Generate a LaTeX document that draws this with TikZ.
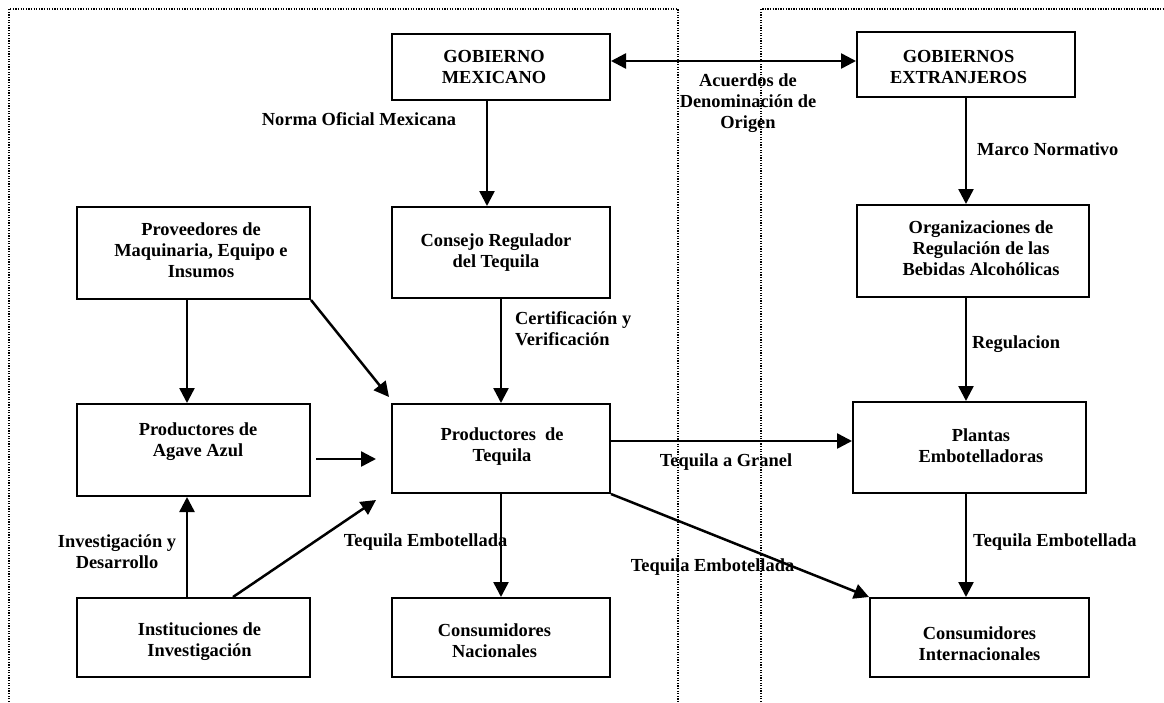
\documentclass[tikz,border=0pt]{standalone}
\usepackage{fontspec}
\setmainfont{Liberation Serif}
\usetikzlibrary{arrows.meta,calc}
\tikzset{
  box/.style={draw, line width=2pt, inner sep=0pt},
  lbl/.style={font=\fontsize{18.4}{21}\selectfont\bfseries, align=center, inner sep=0pt},
  arr/.style={line width=2.5pt, -{Triangle[length=15pt,width=15pt]}},
  darr/.style={line width=2.5pt, {Triangle[length=15pt,width=15pt]}-{Triangle[length=15pt,width=15pt]}},
  frame/.style={line width=1.4pt, dash pattern=on 1.3pt off 1.3pt}
}
\begin{document}
\begin{tikzpicture}[x=1pt,y=-1pt]
\useasboundingbox (0,0) rectangle (1164,702);
% dotted frames
\draw[frame] (9,702) -- (9,9) -- (678,9) -- (678,702);
\draw[frame] (761,702) -- (761,9) -- (1164,9);
% boxes
\node[box, minimum width=218pt, minimum height=66pt] (gm) at (501,67) {};
\node[box, minimum width=218pt, minimum height=65pt] (ge) at (966,64.5) {};
\node[box, minimum width=233pt, minimum height=92pt] (pv) at (193.5,253) {};
\node[box, minimum width=218pt, minimum height=91pt] (crt) at (501,252.5) {};
\node[box, minimum width=232pt, minimum height=92pt] (org) at (973,251) {};
\node[box, minimum width=233pt, minimum height=92pt] (ag) at (193.5,450) {};
\node[box, minimum width=218pt, minimum height=89pt] (pt) at (501,448.5) {};
\node[box, minimum width=233pt, minimum height=91pt] (pe) at (969.5,447.5) {};
\node[box, minimum width=233pt, minimum height=79pt] (in) at (193.5,637.5) {};
\node[box, minimum width=218pt, minimum height=79pt] (cn) at (501,637.5) {};
\node[box, minimum width=219pt, minimum height=79pt] (ci) at (979.5,637.5) {};
% box texts
\node[lbl] (gmT) at (494,67) {GOBIERNO\\MEXICANO};
\node[lbl] (geT) at (958.5,67) {GOBIERNOS\\EXTRANJEROS};
\node[lbl] (pvT) at (201,250) {Proveedores de\\Maquinaria, Equipo e\\Insumos};
\node[lbl] (crtT) at (496,253) {Consejo Regulador\\del Tequila};
\node[lbl] (orgT) at (981,248) {Organizaciones de\\Regulación de las\\Bebidas Alcohólicas};
\node[lbl] (agT) at (198,442) {Productores de\\Agave Azul};
\node[lbl] (ptT) at (502,446.5) {Productores\ \ de\\Tequila};
\node[lbl] (peT) at (981,446) {Plantas\\Embotelladoras};
\node[lbl] (inT) at (199.5,642) {Instituciones de\\Investigación};
\node[lbl] (cnT) at (494.5,640.5) {Consumidores\\Nacionales};
\node[lbl] (ciT) at (979.5,643.5) {Consumidores\\Internacionales};
% connector labels
\node[lbl] (l1) at (359,119) {Norma Oficial Mexicana};
\node[lbl] (l2) at (748,103) {Acuerdos de\\Denominación de\\Origen};
\node[lbl, anchor=west] (l3) at (977,149) {Marco Normativo};
\node[lbl, anchor=west, align=left] (l4) at (515,329) {Certificación y\\Verificación};
\node[lbl, anchor=west] (l5) at (972,344) {Regulacion};
\node[lbl] (l6) at (726,462) {Tequila a Granel};
\node[lbl] (l7) at (425.5,542) {Tequila Embotellada};
\node[lbl] (l8) at (712.5,567) {Tequila Embotellada};
\node[lbl, anchor=west] (l9) at (973,542) {Tequila Embotellada};
\node[lbl] (l10) at (117,552) {Investigación y\\Desarrollo};
% connectors
\draw[darr] ($(gm.east)+(0,-6)$) -- ($(ge.west)+(0,-3.5)$);
\draw[arr] ($(gm.south)+(-14,0)$) -- ($(crt.north)+(-14,0)$);
\draw[arr] (ge.south) -- ($(org.north)+(-7,0)$);
\draw[arr] ($(org.south)+(-7,0)$) -- ($(pe.north)+(-3.5,0)$);
\draw[arr] (crt.south) -- (pt.north);
\draw[arr] ($(pv.south)+(-6.5,0)$) -- ($(ag.north)+(-6.5,0)$);
\draw[arr] (pv.south east) -- ($(pt.north west)+(-2,-6)$);
\draw[arr] ($(ag.east)+(5,9)$) -- ($(pt.west)+(-15,10.5)$);
\draw[arr] ($(in.north)+(-6.5,0)$) -- ($(ag.south)+(-6.5,0)$);
\draw[arr] ($(in.north)+(39.5,0)$) -- ($(pt.south west)+(-15,6)$);
\draw[arr] (pt.south) -- (cn.north);
\draw[arr] (pt.south east) -- (ci.north west);
\draw[arr] ($(pt.east)+(0,-7.5)$) -- ($(pe.west)+(0,-6.5)$);
\draw[arr] ($(pe.south)+(-3.5,0)$) -- ($(ci.north)+(-13.5,0)$);
\end{tikzpicture}
\end{document}
